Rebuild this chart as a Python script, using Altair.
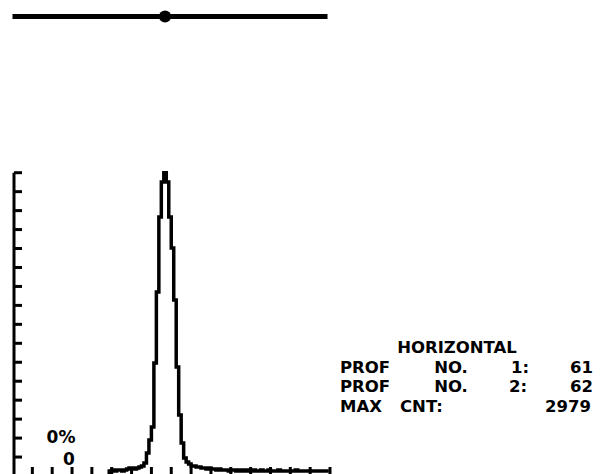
import altair as alt
import pandas as pd

# ---- data ----
MAX_CNT = 2979
prof_no = [61, 62]
channels = list(range(128))
counts = (
    [0] * 16 +
    [0] * 16 +
    [0, 0, 0, 0, 0, 0, 0, 49, 59, 49, 59, 59, 49, 59, 69, 79] +
    [79, 69, 79, 88, 98, 128, 226, 354, 481, 1110, 1807, 2544, 2888, 2979, 2888, 2544] +
    [2239, 1729, 1071, 599, 324, 177, 138, 118, 98, 98, 88, 88, 79, 79, 69, 79] +
    [69, 69, 59, 69, 59, 59, 59, 49, 59, 59, 49, 59, 49, 59, 49, 59] +
    [49, 59, 49, 49, 59, 49, 49, 59, 49, 49, 49, 59, 49, 49, 49, 49] +
    [49, 49, 59, 49, 49, 49, 49, 49, 49, 49, 49, 49, 49, 49, 49, 49]
)
y_tick_pct = [6.25, 12.5, 18.75, 25, 31.25, 37.5, 43.75, 50, 56.25, 62.5,
              68.75, 75, 81.25, 87.5, 93.75, 100]
x_tick_ch = [8, 16, 24, 32, 40, 48, 56, 64, 72, 80, 88, 96, 104, 112, 120, 128]
scan_span = [0, 127]

FONT = "DejaVu Sans"

xs = alt.Scale(domain=[0, 128], range=[4.5, 322])
ys = alt.Scale(domain=[0, 100], range=[468, 164.7])

prof = pd.DataFrame({"ch": channels, "cnt": counts})

profile = alt.Chart(prof).transform_calculate(
    pct=f"datum.cnt / {MAX_CNT} * 100", xc="datum.ch + 0.5"
).mark_line(interpolate="step", color="black", strokeWidth=3.5).encode(
    x=alt.X("xc:Q", scale=xs, axis=None),
    y=alt.Y("pct:Q", scale=ys, axis=None),
)

left_axis = alt.Chart(pd.DataFrame({"lo": [0], "hi": [100]})).mark_rule(
    color="black", strokeWidth=3
).encode(x=alt.value(6), y=alt.Y("lo:Q", scale=ys, axis=None), y2="hi:Q")

y_ticks = alt.Chart(pd.DataFrame({"p": y_tick_pct})).mark_rule(
    color="black", strokeWidth=3
).encode(x=alt.value(6), x2=alt.value(14), y=alt.Y("p:Q", scale=ys, axis=None))

x_ticks = alt.Chart(pd.DataFrame({"c": x_tick_ch})).mark_rule(
    color="black", strokeWidth=3
).encode(x=alt.X("c:Q", scale=xs, axis=None), y=alt.value(459), y2=alt.value(470))

scan_line = alt.Chart(pd.DataFrame({"a": [scan_span[0]], "b": [scan_span[1]]})).mark_rule(
    color="black", strokeWidth=5
).encode(x=alt.X("a:Q", scale=xs, axis=None), x2="b:Q", y=alt.value(8.5))

scan_dot = alt.Chart(pd.DataFrame({"p": [sum(prof_no) / 2]})).mark_point(
    filled=True, color="black", opacity=1, size=150, shape="circle"
).encode(x=alt.X("p:Q", scale=xs, axis=None), y=alt.value(8.5))


def label(s, x, y, size=16.5, align="center"):
    return alt.Chart(pd.DataFrame({"t": [s]})).mark_text(
        font=FONT, fontWeight="bold", fontSize=size, color="black",
        align=align, baseline="middle"
    ).encode(text="t:N", x=alt.value(x), y=alt.value(y))


texts = [
    label("HORIZONTAL", 449, 340),
    label("PROF", 332, 359.5, align="left"), label("NO.", 443, 359.5),
    label(f"{1}:", 512, 359.5), label(str(prof_no[0]), 585, 359.5, align="right"),
    label("PROF", 332, 379, align="left"), label("NO.", 443, 379),
    label(f"{2}:", 510, 379), label(str(prof_no[1]), 585, 379, align="right"),
    label("MAX", 332, 398.5, align="left"), label("CNT:", 392, 398.5, align="left"),
    label(str(MAX_CNT), 583, 398.5, align="right"),
    label("0%", 53, 429.5, 17),
    label("0", 61, 451.5, 17),
]

chart = alt.layer(
    profile, left_axis, y_ticks, x_ticks, scan_line, scan_dot, *texts
).properties(
    width=588, height=466,
    autosize=alt.AutoSizeParams(type="none"),
    padding=0,
    background="white",
).configure_view(stroke=None)

chart.save("out.html", embed_options={"renderer": "svg", "actions": False})
